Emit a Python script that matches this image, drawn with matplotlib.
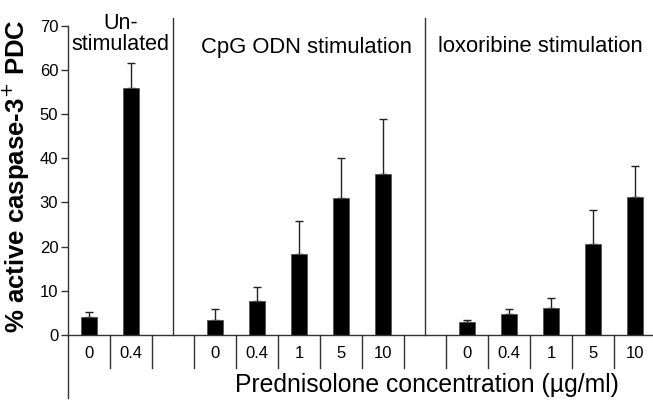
import matplotlib
matplotlib.use("Agg")
import matplotlib.pyplot as plt
import numpy as np

plt.rcParams['font.family'] = ['Liberation Sans', 'DejaVu Sans']

# Bar groups (empty slots separate the stimulation groups)
groups = ["Un-\nstimulated", "CpG ODN stimulation", "loxoribine stimulation"]
concentrations = [["0", "0.4"],
                  ["0", "0.4", "1", "5", "10"],
                  ["0", "0.4", "1", "5", "10"]]
means = [[4.1, 56.0],
         [3.5, 7.7, 18.4, 31.0, 36.5],
         [2.9, 4.7, 6.0, 20.7, 31.2]]
errors = [[1.2, 5.5],
          [2.3, 3.1, 7.5, 9.1, 12.3],
          [0.6, 1.1, 2.4, 7.7, 7.1]]

# Lay out slot positions: one empty slot between groups
positions, labels, vals, errs = [], [], [], []
separators = []
slot = 0
for gi, (conc, m, e) in enumerate(zip(concentrations, means, errors)):
    for c, v, er in zip(conc, m, e):
        positions.append(slot)
        labels.append(c)
        vals.append(v)
        errs.append(er)
        slot += 1
    if gi < len(concentrations) - 1:
        separators.append(slot)
        slot += 1

W, H = 653, 404
fig = plt.figure(figsize=(W / 100, H / 100), dpi=100)
px_left, px_right = 68, 653
px_top, px_bottom = 25.7, 335
ax = fig.add_axes([px_left / W, (H - px_bottom) / H,
                   (px_right - px_left) / W, (px_bottom - px_top) / H])

slot_px = 42.0
xmax = -0.5 + (px_right - px_left) / slot_px
ax.set_xlim(-0.5, xmax)
ax.set_ylim(0, 70)

ax.bar(positions, vals, width=0.4, color='black', edgecolor='#555555',
       linewidth=0.6, zorder=2)
ax.errorbar(positions, vals, yerr=[np.zeros(len(errs)), errs], fmt='none',
            ecolor='#222222', elinewidth=1.0, capsize=3, capthick=1.0, zorder=1)

# Axes styling
for s in ['top', 'right']:
    ax.spines[s].set_visible(False)
ax.spines['left'].set_color('#333333')
ax.spines['bottom'].set_color('#333333')
ax.spines['left'].set_linewidth(1.0)
ax.spines['bottom'].set_linewidth(1.0)
ax.set_yticks(np.arange(0, 71, 10))
ax.tick_params(axis='y', direction='out', length=5, width=1.0, color='#333333',
               labelsize=12, pad=2)
ax.set_xticks([])

# Group separators above the axis
sep_top = 70 + (px_top - 18) / (px_bottom - px_top) * 70
for s in separators:
    ax.plot([s, s], [0, sep_top], color='#333333', lw=1.0, clip_on=False, zorder=3)

# Category table below the axis
to_y = lambda py: (px_bottom - py) / (px_bottom - px_top) * 70
y_div = to_y(368)
for b in np.arange(0.5, xmax, 1.0):
    ax.plot([b, b], [0, y_div], color='#333333', lw=1.0, clip_on=False)
ax.plot([-0.5, -0.5], [0, to_y(398)], color='#333333', lw=1.0, clip_on=False)
for p, lab in zip(positions, labels):
    ax.text(p, to_y(354), lab, ha='center', va='center', fontsize=12)

# Group titles, placed between the separators
title_x = [0.75, 5.17, 10.74]
ax.text(title_x[0], to_y(34), groups[0], ha='center', va='center', fontsize=15.5,
        linespacing=1.05, clip_on=False)
for gi in (1, 2):
    ax.text(title_x[gi], to_y(47), groups[gi], ha='center', va='center',
            fontsize=15.8, clip_on=False)

fig.text(427 / W, 1 - 385 / H, "Prednisolone concentration (\u00b5g/ml)",
         ha='center', va='center', fontsize=17.8)
fig.text(16 / W, 1 - 176 / H, "% active caspase-3$^{+}$ PDC", rotation=90,
         ha='center', va='center', fontsize=18.5, fontweight='bold')

fig.savefig("out.png", dpi=100)
